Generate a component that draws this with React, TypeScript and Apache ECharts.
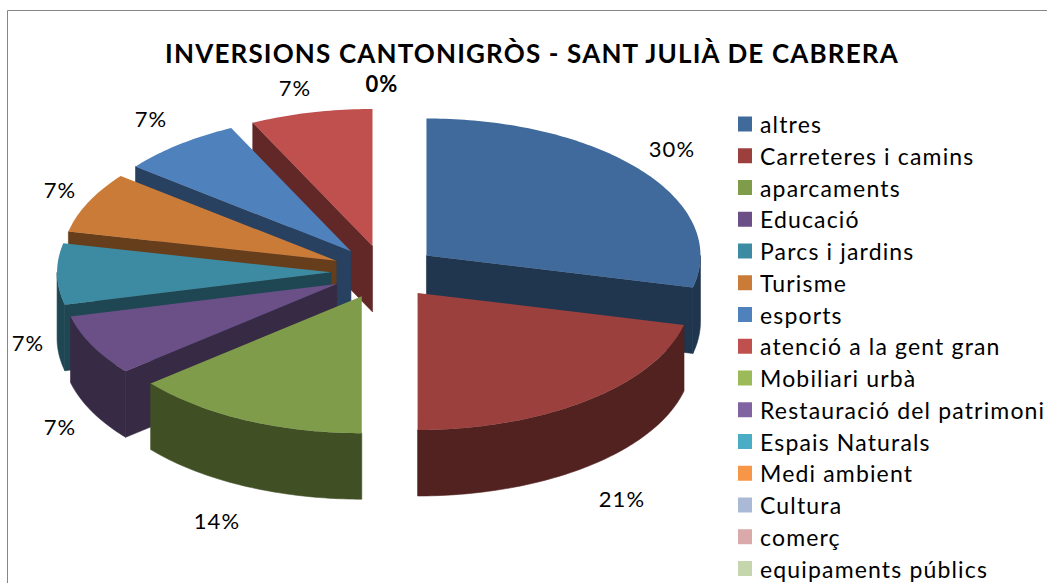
import React, { useEffect, useRef } from "react";
import * as echarts from "echarts";

const chartTitle = "INVERSIONS CANTONIGRÒS - SANT JULIÀ DE CABRERA";
const categories = [
  "altres", "Carreteres i camins", "aparcaments", "Educació", "Parcs i jardins",
  "Turisme", "esports", "atenció a la gent gran", "Mobiliari urbà",
  "Restauració del patrimoni", "Espais Naturals", "Medi ambient", "Cultura",
  "comerç", "equipaments públics",
];
// slice sizes as they are drawn in the picture (share of the full circle)
const shares = [28.75, 21.25, 14, 7.2, 7.2, 7.2, 7.2, 7.2, 0, 0, 0, 0, 0, 0, 0];
const percentLabels = ["30%", "21%", "14%", "7%", "7%", "7%", "7%", "7%", "0%", "", "", "", "", "", ""];
const topColors = [
  "#416A9C", "#9C403E", "#7F9C4B", "#6A5087", "#3D8BA3", "#CB7B38", "#4F81BD", "#C0504D",
  "#9BBB59", "#8064A2", "#4BACC6", "#F79646", "#AAB9D6", "#D9AAA9", "#C6D6AC",
];
const sideColors = [
  "#20364F", "#512220", "#414F25", "#372A44", "#1F4753", "#673E1B", "#284160", "#612827",
  "#4F5F2D", "#413352", "#265764", "#7D4C23", "#56606F", "#6E5655", "#646C57",
];
// back-to-front painting order of the slices
const paintOrder = [7, 6, 5, 4, 3, 0, 1, 2, 8, 9, 10, 11, 12, 13, 14];
// label anchors, layout only
const labelAnchors: number[][] = [
  [672, 148], [622, 498], [217, 520], [60, 426], [28, 342], [60, 189], [151, 118], [295, 87], [382, 83],
];

const CX = 384.5, CY = 272, RX = 274, RY = 137, DEPTH = 66, EXPLODE = 0.195;
const FONT = "Lato";

function pt(ox: number, oy: number, deg: number, k = 1, dz = 0): number[] {
  const a = (deg * Math.PI) / 180;
  return [ox + Math.sin(a) * RX * k, oy - Math.cos(a) * RY * k + dz];
}
function arc(ox: number, oy: number, a0: number, a1: number, dz = 0): number[][] {
  const out: number[][] = [];
  const n = Math.max(2, Math.ceil(Math.abs(a1 - a0)));
  for (let i = 0; i <= n; i++) out.push(pt(ox, oy, a0 + ((a1 - a0) * i) / n, 1, dz));
  return out;
}

function makeRenderItem(index: number) {
  return (_params: any, api: any) => {
    const share = api.value(0);
    const before = api.value(1);
    const children: any[] = [];
    if (share > 0) {
      const a0 = (before / 100) * 360;
      const a1 = ((before + share) / 100) * 360;
      const mid = (a0 + a1) / 2;
      const [ox, oy] = pt(CX, CY, mid, EXPLODE);
      const dark = { fill: sideColors[index], stroke: sideColors[index], lineWidth: 0.6 };
      const face = (deg: number) => {
        const p = pt(ox, oy, deg);
        return {
          type: "polygon",
          shape: { points: [[ox, oy], p, [p[0], p[1] + DEPTH], [ox, oy + DEPTH]] },
          style: dark,
        };
      };
      // a cut face is visible when it looks towards the viewer
      if (a0 > 180) children.push(face(a0));
      if (a1 < 180) children.push(face(a1));
      const r0 = Math.max(a0, 90);
      const r1 = Math.min(a1, 270);
      if (r1 > r0) {
        children.push({
          type: "polygon",
          shape: { points: [...arc(ox, oy, r0, r1), ...arc(ox, oy, r1, r0, DEPTH)] },
          style: dark,
        });
      }
      children.push({
        type: "polygon",
        shape: { points: [[ox, oy], ...arc(ox, oy, a0, a1)] },
        style: { fill: topColors[index], lineWidth: 0 },
      });
    }
    const text = percentLabels[index];
    if (text) {
      const [x, y] = labelAnchors[index];
      children.push({
        type: "text",
        z2: 50,
        style: {
          text, x, y, fill: "#000", align: "center", verticalAlign: "middle",
          fontFamily: FONT, fontSize: 22, fontWeight: share > 0 ? 400 : 700,
        },
      });
    }
    return { type: "group", children };
  };
}

export default function App() {
  const ref = useRef<HTMLDivElement>(null);
  useEffect(() => {
    const chart = echarts.init(ref.current!, undefined, { renderer: "svg" });
    let running = 0;
    const series = categories.map((name, i) => {
      const item = {
        type: "custom",
        name,
        coordinateSystem: "none",
        z: 2 + paintOrder.indexOf(i),
        silent: true,
        itemStyle: { color: topColors[i] },
        renderItem: makeRenderItem(i),
        data: [[shares[i], running]],
      };
      running += shares[i];
      return item;
    });
    chart.setOption({
      animation: false,
      backgroundColor: "#fff",
      title: {
        text: chartTitle,
        left: 527,
        top: 35,
        textAlign: "center",
        textStyle: { fontFamily: FONT, fontSize: 26, fontWeight: 700, color: "#000" },
      },
      legend: {
        orient: "vertical",
        left: 738,
        top: 111,
        height: 472,
        width: 309,
        padding: 0,
        selectedMode: false,
        itemWidth: 14,
        itemHeight: 15,
        itemGap: 5.75,
        icon: "rect",
        data: categories,
        textStyle: { fontFamily: FONT, fontSize: 23, color: "#000", padding: [0, 0, 0, 3], lineHeight: 26 },
      },
      graphic: [
        {
          type: "polyline",
          silent: true,
          shape: { points: [[7.5, 583], [7.5, 10.5], [1047, 10.5]] },
          style: { stroke: "#868686", lineWidth: 1, fill: "none" },
        },
      ],
      series,
    });
    return () => chart.dispose();
  }, []);
  return (
    <div
      ref={ref}
      style={{ position: "fixed", left: 0, top: 0, width: 1047, height: 583, letterSpacing: "1.16px" }}
    />
  );
}
